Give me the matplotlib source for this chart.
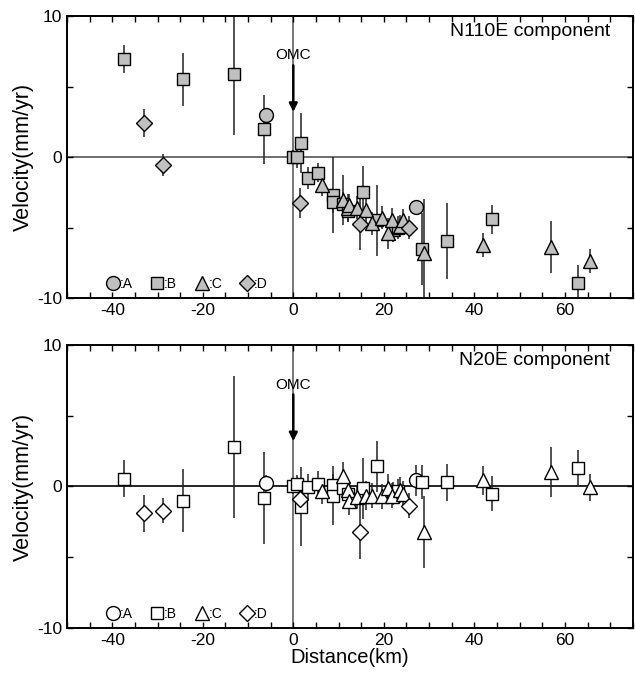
import numpy as np
import matplotlib
matplotlib.use('Agg')
import matplotlib.pyplot as plt
from matplotlib.ticker import MultipleLocator

plt.rcParams['font.family'] = ['Liberation Sans', 'DejaVu Sans']
plt.rcParams['axes.unicode_minus'] = False

# --- site group A (circles)
a_dist     = [-6.0, 27.0]
a_n110     = [2.97, -3.57]
a_n110_err = [0.5, 0.5]
a_n20      = [0.24, 0.43]
a_n20_err  = [0.6, 1.1]

# --- site group B (squares)
b_dist     = [-37.5, -24.3, -13.1, -6.5, 0.0, 0.8, 1.75, 3.3, 5.4, 8.7, 8.8,
              11.0, 12.1, 15.3, 18.5, 22.1, 23.2, 28.5, 34.0, 44.0, 62.8]
b_n110     = [6.94, 5.5, 5.9, 1.96, 0.0, 0.0, 1.0, -1.5, -1.1, -2.7, -3.2,
              -3.3, -3.8, -2.46, -4.5, -5.2, -5.0, -6.55, -5.94, -4.43, -8.94]
b_n110_err = [1.0, 1.9, 4.35, 2.45, 0.5, 0.8, 2.15, 0.8, 0.7, 2.7, 0.8,
              0.8, 0.8, 1.8, 2.5, 0.8, 0.8, 2.55, 2.7, 1.0, 1.3]
b_n20      = [0.55, -1.0, 2.8, -0.8, 0.0, 0.19, -1.42, -0.05, 0.2, 0.07, -0.64,
              -0.1, -0.5, -0.12, 1.42, -0.5, -0.3, 0.35, 0.3, -0.52, 1.3]
b_n20_err  = [1.3, 2.2, 5.0, 3.25, 0.5, 0.6, 2.8, 0.95, 0.9, 0.8, 2.1,
              0.8, 0.8, 2.15, 1.8, 0.8, 0.8, 1.2, 1.3, 1.24, 1.28]

# --- site group C (triangles)
c_dist     = [6.4, 11.0, 12.1, 12.3, 14.1, 16.0, 17.4, 19.7, 21.0, 21.9,
              23.5, 24.2, 28.9, 41.9, 57.0, 65.5]
c_n110     = [-2.0, -3.05, -3.6, -3.4, -3.6, -3.73, -4.7, -4.3, -5.4, -4.45,
              -4.9, -4.5, -6.8, -6.25, -6.37, -7.37]
c_n110_err = [0.75, 1.8, 1.0, 0.8, 0.8, 1.0, 0.8, 0.8, 1.1, 0.8,
              0.8, 0.8, 3.8, 0.85, 1.85, 0.85]
c_n20      = [-0.33, 0.71, -0.28, -1.04, -0.76, -0.64, -0.64, -0.7, -0.1, -0.64,
              -0.26, -0.5, -3.24, 0.43, 1.0, -0.05]
c_n20_err  = [0.9, 1.0, 0.8, 1.0, 0.8, 1.0, 0.9, 0.9, 1.0, 0.9,
              0.9, 0.9, 2.55, 1.0, 1.77, 0.95]

# --- site group D (diamonds)
d_dist     = [-33.0, -28.7, 1.5, 14.7, 25.6]
d_n110     = [2.43, -0.58, -3.25, -4.76, -5.0]
d_n110_err = [1.0, 0.8, 1.05, 1.8, 0.8]
d_n20      = [-1.9, -1.7, -0.88, -3.24, -1.35]
d_n20_err  = [1.3, 0.9, 0.7, 1.9, 0.9]

groups = [
    (':A', 'o', 10, a_dist, a_n110, a_n110_err, a_n20, a_n20_err),
    (':B', 's', 9, b_dist, b_n110, b_n110_err, b_n20, b_n20_err),
    (':C', '^', 10, c_dist, c_n110, c_n110_err, c_n20, c_n20_err),
    (':D', 'D', 8, d_dist, d_n110, d_n110_err, d_n20, d_n20_err),
]

fig = plt.figure(figsize=(6.35, 6.73), dpi=100)
ax_top = fig.add_axes((0.1055, 0.5572, 0.891, 0.419))
ax_bot = fig.add_axes((0.1055, 0.0669, 0.891, 0.4205))


def draw_panel(ax, which, fill, title, hcolor):
    ax.axhline(0, color=hcolor, lw=1.2, zorder=1)
    ax.axvline(0, color='#606060', lw=1.2, zorder=1)
    handles = []
    for lab, mk, ms, dist, v1, e1, v2, e2 in groups:
        v = v1 if which == 0 else v2
        e = e1 if which == 0 else e2
        ax.errorbar(dist, v, yerr=e, fmt='none', ecolor='#222222',
                    elinewidth=1.1, capsize=0, zorder=2)
        h, = ax.plot(dist, v, ls='none', marker=mk, ms=ms, mfc=fill,
                     mec='black', mew=1.0, zorder=3, label=lab)
        handles.append(h)

    ax.annotate('', xy=(0, 3.2), xytext=(0, 6.5),
                arrowprops=dict(arrowstyle='-|>', color='black', lw=1.8,
                                mutation_scale=12, shrinkA=0, shrinkB=0),
                zorder=4)
    ax.text(0, 7.2, 'OMC', ha='center', va='center', fontsize=11)
    ax.text(0.96, 0.975, title, transform=ax.transAxes, ha='right', va='top',
            fontsize=14)

    ax.legend(handles=handles, loc='lower left', ncol=4, frameon=False,
              fontsize=10, handlelength=0.9, handletextpad=0.05,
              columnspacing=1.3, borderaxespad=0.1,
              bbox_to_anchor=(0.058, 0.0))

    ax.set_xlim(-50, 75)
    ax.set_ylim(-10, 10)
    ax.xaxis.set_major_locator(MultipleLocator(20))
    ax.xaxis.set_minor_locator(MultipleLocator(5))
    ax.yaxis.set_major_locator(MultipleLocator(10))
    ax.yaxis.set_minor_locator(MultipleLocator(5))
    ax.tick_params(which='both', direction='in', top=True, right=True,
                   length=4, width=1.0, labelsize=12.5)
    for s in ax.spines.values():
        s.set_linewidth(1.4)
    ax.set_ylabel('Velocity(mm/yr)', fontsize=15.5, labelpad=2)


draw_panel(ax_top, 0, '#c0c0c0', 'N110E component', '#555555')
draw_panel(ax_bot, 1, 'white', 'N20E component', 'black')
ax_bot.set_xlabel('Distance(km)', fontsize=14.5, labelpad=0)

fig.savefig('out.png', dpi=100)
